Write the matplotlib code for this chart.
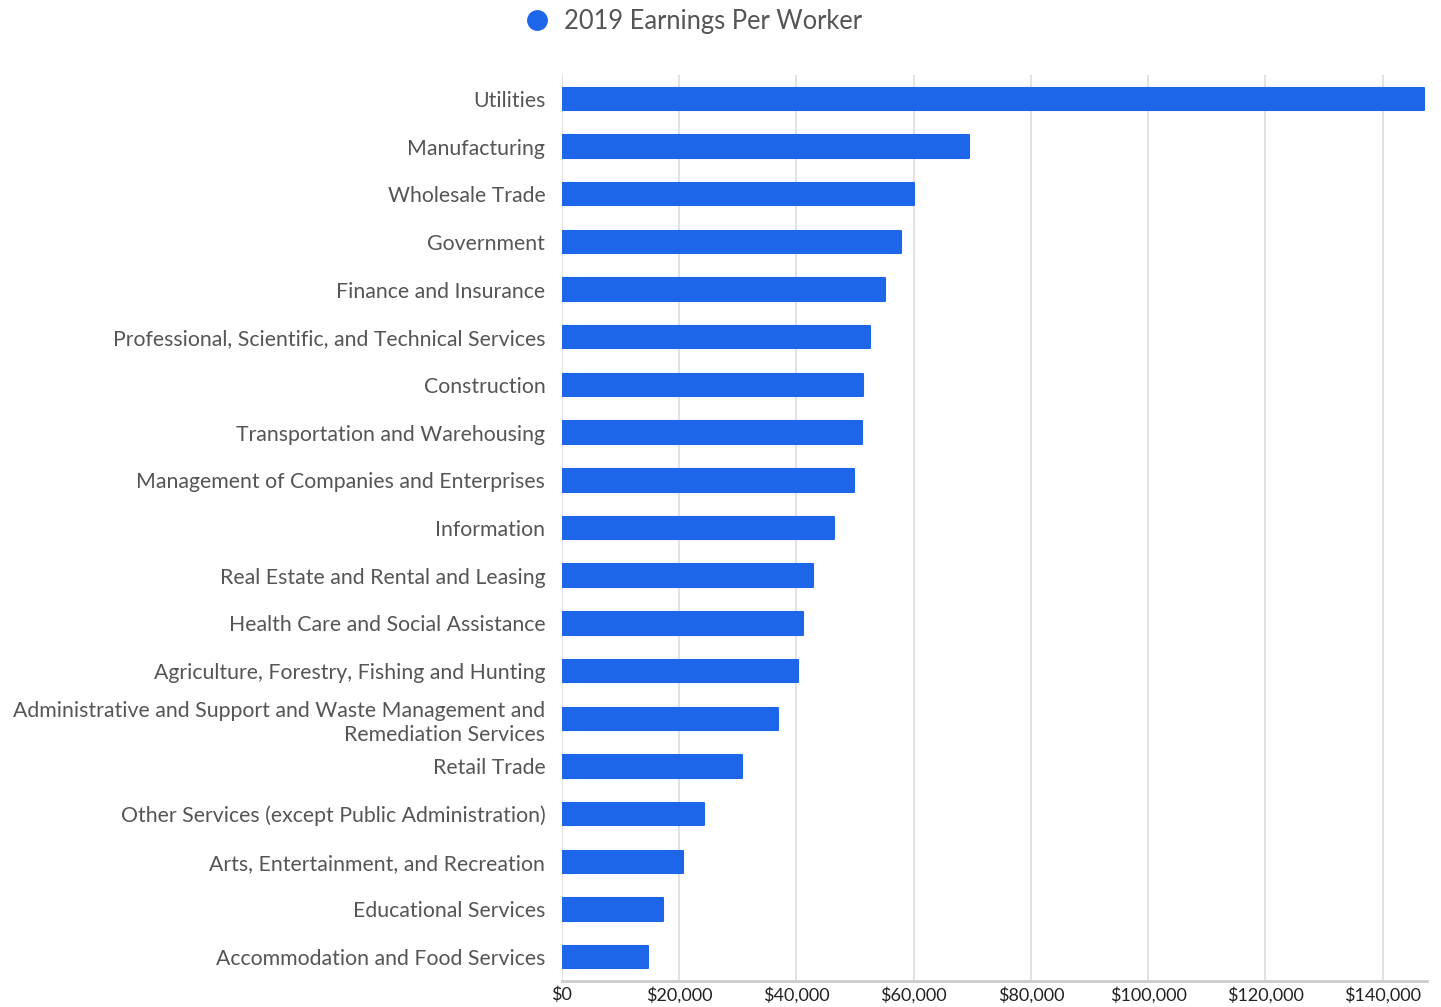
import matplotlib.pyplot as plt
from matplotlib.lines import Line2D
from matplotlib.ticker import FuncFormatter

# categories (top to bottom) and 2019 earnings per worker
industries = [
    "Utilities",
    "Manufacturing",
    "Wholesale Trade",
    "Government",
    "Finance and Insurance",
    "Professional, Scientific, and Technical Services",
    "Construction",
    "Transportation and Warehousing",
    "Management of Companies and Enterprises",
    "Information",
    "Real Estate and Rental and Leasing",
    "Health Care and Social Assistance",
    "Agriculture, Forestry, Fishing and Hunting",
    "Administrative and Support and Waste Management and\nRemediation Services",
    "Retail Trade",
    "Other Services (except Public Administration)",
    "Arts, Entertainment, and Recreation",
    "Educational Services",
    "Accommodation and Food Services",
]
earnings = [147000, 69400, 60000, 57800, 55100, 52500, 51300, 51100, 49800, 46400,
            42800, 41100, 40200, 36800, 30700, 24200, 20600, 17200, 14700]
xticks = [0, 20000, 40000, 60000, 80000, 100000, 120000, 140000]

blue = "#1d66ea"
txt = "#555555"

plt.rcParams['font.family'] = ['Lato', 'DejaVu Sans']

fig = plt.figure(figsize=(14.41, 10.07), dpi=100)
ax = fig.add_axes([0.390, 0.0258, 0.600, 0.8997])

pos = list(range(len(industries)))
# round joins on a thin edge give the slightly rounded bar corners
ax.barh(pos, earnings, height=0.47, color=blue, edgecolor=blue,
        linewidth=1.5, joinstyle='round', zorder=3)

ax.set_ylim(len(industries) - 0.5, -0.5)
ax.set_xlim(0, 147500)
ax.set_yticks(pos)
ax.set_yticklabels(industries, fontsize=15.3, color=txt, linespacing=1.25)
ax.set_xticks(xticks)
ax.xaxis.set_major_formatter(FuncFormatter(lambda v, p: "${:,.0f}".format(v)))
ax.tick_params(axis='x', labelsize=13, colors='#222222', length=0, pad=4)
ax.tick_params(axis='y', length=0, pad=12)

ax.grid(axis='x', color='#dddddd', linewidth=1.2, zorder=0)
for s in ['top', 'right', 'left']:
    ax.spines[s].set_visible(False)
ax.spines['bottom'].set_color('#cccccc')
ax.spines['bottom'].set_linewidth(2)

handle = Line2D([], [], marker='o', linestyle='none', markersize=14,
                markerfacecolor=blue, markeredgecolor=blue)
fig.legend([handle], ["2019 Earnings Per Worker"], loc='center',
           bbox_to_anchor=(0.4765, 0.979), frameon=False, fontsize=18.4,
           labelcolor=txt, handletextpad=0.05)

fig.savefig("out.png", dpi=100)
